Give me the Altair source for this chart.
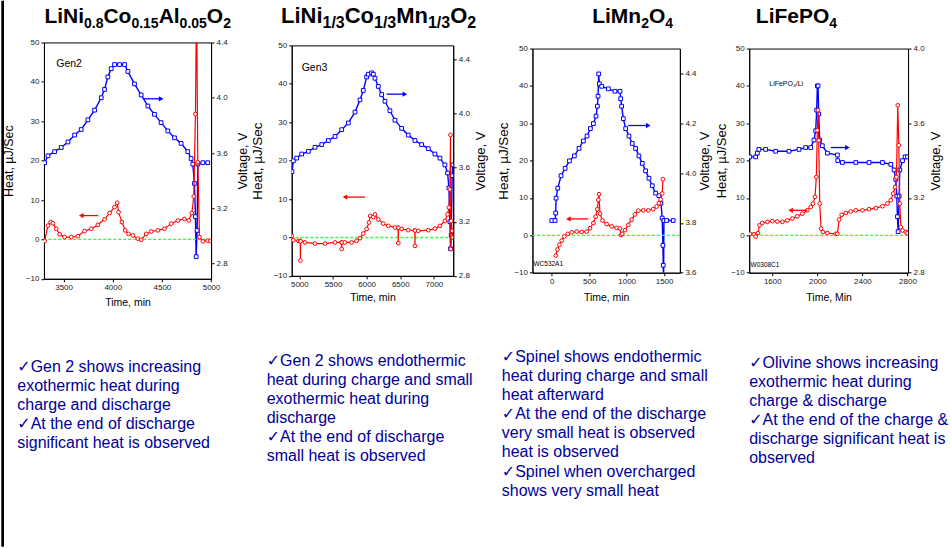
import altair as alt
import pandas as pd

FONT = "Liberation Sans, Arial, DejaVu Sans, sans-serif"
RED = "#ff0000"
BLUE = "#0000ff"
GREEN = "#33ff33"
NAVY = "#000099"

# ---------------- data ----------------
# Panel 1: LiNi0.8Co0.15Al0.05O2 (Gen2)
p1_volt_t = [3307, 3341, 3408, 3476, 3544, 3612, 3679, 3747, 3815, 3883, 3916, 3950, 3984, 4018, 4069, 4120,
             4154, 4221, 4289, 4357, 4424, 4492, 4560, 4628, 4695, 4763, 4797, 4814, 4831, 4841, 4848, 4858,
             4865, 4916, 4966]
p1_volt_v = [3.53, 3.58, 3.61, 3.64, 3.68, 3.73, 3.77, 3.84, 3.91, 4.00, 4.06, 4.15, 4.21, 4.24, 4.24, 4.24,
             4.19, 4.10, 4.02, 3.94, 3.88, 3.82, 3.76, 3.71, 3.67, 3.61, 3.56, 3.52, 3.38, 3.14, 2.85, 3.04,
             3.52, 3.53, 3.53]
p1_heat_t = [3307, 3341, 3368, 3391, 3425, 3459, 3510, 3578, 3645, 3713, 3781, 3849, 3916, 3967, 4018, 4045,
             4059, 4093, 4126, 4160, 4204, 4255, 4289, 4340, 4391, 4458, 4526, 4594, 4662, 4729, 4773, 4804,
             4824, 4841, 4852, 4865, 4882, 4916, 4966, 4994]
p1_heat_h = [-0.4, 3.5, 4.4, 4.1, 2.7, 1.3, 0.6, 0.6, 0.8, 2.1, 2.7, 3.7, 5.1, 6.7, 8.2, 9.3,
             6.9, 4.4, 2.3, 1.4, 1.0, 0.2, -0.1, 1.4, 2.0, 2.3, 2.7, 4.0, 4.8, 5.2, 4.8, 6.7,
             10.9, 31.8, 62.0, 19.6, 0.6, -0.5, -0.3, -0.4]

# Panel 2: LiNi1/3Co1/3Mn1/3O2 (Gen3)
p2_volt_t = [4890, 4911, 4960, 5035, 5134, 5233, 5332, 5431, 5530, 5629, 5728, 5827, 5901, 5950, 6000, 6025,
             6074, 6099, 6124, 6173, 6223, 6272, 6346, 6421, 6520, 6619, 6718, 6817, 6916, 7015, 7089, 7163,
             7203, 7223, 7237, 7247, 7257, 7272, 7282]
p2_volt_v = [3.57, 3.65, 3.67, 3.70, 3.72, 3.75, 3.77, 3.80, 3.83, 3.88, 3.93, 4.01, 4.10, 4.17, 4.27, 4.29,
             4.30, 4.29, 4.26, 4.20, 4.14, 4.09, 4.02, 3.95, 3.89, 3.84, 3.80, 3.77, 3.74, 3.70, 3.67, 3.62,
             3.56, 3.45, 3.20, 3.00, 3.10, 3.54, 3.62]
p2_heat_t = [4886, 4911, 4985, 5013, 5015, 5018, 5084, 5233, 5381, 5530, 5627, 5629, 5632, 5678, 5777, 5851,
             5901, 5950, 6000, 6035, 6054, 6099, 6124, 6173, 6247, 6322, 6421, 6468, 6470, 6473, 6520, 6619,
             6716, 6718, 6721, 6767, 6916, 7015, 7089, 7163, 7203, 7223, 7237, 7247, 7250, 7257, 7272, 7282]
p2_heat_h = [0.4, -0.7, -0.9, -0.9, -6.0, -1.0, -1.3, -1.6, -1.6, -1.3, -1.3, -3.0, -1.3, -1.3, -1.3, -0.9,
             -0.2, 1.0, 2.2, 3.9, 5.6, 5.3, 6.0, 4.7, 3.6, 3.0, 2.6, 2.5, -1.5, 2.5, 2.2, 1.9,
             1.8, -2.2, 1.8, 1.7, 1.9, 2.3, 3.0, 4.3, 6.0, 7.8, 12.5, 26.7, -3.0, 4.3, 1.7, 0.0]

# Panel 3: LiMn2O4
p3_volt_t = [0, 44, 53, 58, 80, 124, 178, 236, 302, 364, 422, 471, 516, 556, 591, 609, 618, 627, 636, 667,
             756, 844, 911, 920, 933, 956, 987, 1031, 1075, 1120, 1164, 1209, 1253, 1298, 1342, 1387, 1431,
             1458, 1475, 1484, 1489, 1493, 1498, 1533, 1622]
p3_volt_v = [3.81, 3.81, 3.84, 3.90, 3.94, 3.99, 4.02, 4.05, 4.07, 4.10, 4.13, 4.15, 4.18, 4.20, 4.23, 4.27,
             4.31, 4.40, 4.36, 4.35, 4.34, 4.33, 4.33, 4.30, 4.27, 4.22, 4.18, 4.15, 4.12, 4.10, 4.07, 4.04,
             4.01, 3.98, 3.95, 3.92, 3.91, 3.88, 3.82, 3.71, 3.63, 3.55, 3.81, 3.81, 3.81]
p3_heat_t = [53, 76, 102, 133, 169, 213, 267, 333, 400, 467, 511, 556, 587, 609, 622, 631, 644, 676, 733, 800,
             867, 911, 924, 942, 978, 1022, 1067, 1111, 1156, 1222, 1289, 1355, 1400, 1431, 1453, 1475, 1484]
p3_heat_h = [-5.4, -3.8, -2.5, -1.4, -0.3, 0.4, 0.8, 1.0, 0.9, 1.0, 1.9, 3.3, 5.0, 7.0, 9.5, 11.0, 5.8, 4.0,
             3.0, 2.4, 2.0, 1.8, 0.1, 0.4, 1.4, 2.8, 4.2, 5.6, 6.6, 6.7, 6.7, 7.0, 7.7, 8.6, 9.6, 11.2, 15.0]

# Panel 4: LiFePO4
p4_volt_t = [1400, 1452, 1467, 1481, 1541, 1630, 1748, 1837, 1896, 1941, 1970, 1985, 1994, 2000, 2006, 2012,
             2021, 2044, 2089, 2178, 2181, 2222, 2341, 2459, 2578, 2652, 2681, 2696, 2705, 2711, 2717, 2726,
             2732, 2756, 2779, 2800]
p4_volt_v = [3.42, 3.42, 3.44, 3.46, 3.46, 3.45, 3.45, 3.46, 3.47, 3.47, 3.51, 3.56, 3.67, 3.80, 3.80, 3.65,
             3.51, 3.48, 3.44, 3.43, 3.40, 3.39, 3.39, 3.39, 3.39, 3.38, 3.35, 3.30, 3.21, 3.10, 3.02, 3.21,
             3.35, 3.40, 3.42, 3.42]
p4_heat_t = [1400, 1437, 1452, 1473, 1487, 1511, 1556, 1600, 1644, 1689, 1733, 1778, 1822, 1867, 1911, 1941,
             1961, 1979, 1991, 2000, 2006, 2012, 2021, 2033, 2050, 2089, 2163, 2178, 2193, 2216, 2252, 2296,
             2341, 2400, 2459, 2519, 2578, 2622, 2652, 2673, 2690, 2702, 2714, 2723, 2732, 2741, 2756, 2785, 2800]
p4_heat_h = [0.4, 0.3, -0.3, 0.6, 2.7, 3.3, 3.6, 3.8, 3.7, 3.6, 4.0, 4.5, 5.1, 5.8, 6.7, 7.6,
             8.5, 10.3, 15.6, 28.1, 33.5, 25.4, 8.5, 1.8, 0.9, 0.6, 0.4, 0.4, 4.2, 5.5, 6.0, 6.4,
             6.7, 6.7, 7.0, 7.3, 7.8, 8.5, 9.4, 11.2, 12.9, 15.6, 34.8, 24.1, 8.5, 2.2, 1.3, 0.9, 0.6]

# arrows: start time, end time, heat level, colour, head side
p1_arrows = [(4319, 4492, 35.7, BLUE, "right"), (3679, 3852, 6.05, RED, "left")]
p2_arrows = [(6297, 6569, 37.3, BLUE, "right"), (5678, 5975, 10.5, RED, "left")]
p3_arrows = [(1022, 1289, 29.4, BLUE, "right"), (222, 489, 4.4, RED, "left")]
p4_arrows = [(2119, 2267, 23.5, BLUE, "right"), (1763, 1911, 6.7, RED, "left")]

# in-plot labels: time, heat, text, font size
p1_labels = [(3425, 44.6, "Gen2", 10.5)]
p2_labels = [(5035, 44.0, "Gen3", 10.5)]
p3_labels = [(-244, -7.7, "WC532A1", 6.5)]
p4_labels = [(1573, 40.6, "LiFePO\u2084/Li", 7), (1407, -8.0, "W0308C1", 6.5)]

# titles (pieces: text, is_subscript)
t1 = [("LiNi", 0), ("0.8", 1), ("Co", 0), ("0.15", 1), ("Al", 0), ("0.05", 1), ("O", 0), ("2", 1)]
t2 = [("LiNi", 0), ("1/3", 1), ("Co", 0), ("1/3", 1), ("Mn", 0), ("1/3", 1), ("O", 0), ("2", 1)]
t3 = [("LiMn", 0), ("2", 1), ("O", 0), ("4", 1)]
t4 = [("LiFePO", 0), ("4", 1)]

b1 = ["\u2713Gen 2 shows increasing", "exothermic heat during", "charge and discharge",
      "\u2713At the end of discharge", "significant heat is observed"]
b2 = ["\u2713Gen 2 shows endothermic", "heat during charge and small", "exothermic heat during",
      "discharge", "\u2713At the end of discharge", "small heat is observed"]
b3 = ["\u2713Spinel shows endothermic", "heat during charge and small", "heat afterward",
      "\u2713At the end of the discharge", "very small heat is observed", "heat is observed",
      "\u2713Spinel when overcharged", "shows very small heat"]
b4 = ["\u2713Olivine shows increasing", "exothermic heat during", "charge & discharge",
      "\u2713At the end of the charge &", "discharge  significant heat is", "observed"]

# ---------------- helpers ----------------
AB = {'L': 611, 'i': 278, 'N': 722, 'C': 722, 'o': 611, 'A': 722, 'l': 278, 'O': 778, 'M': 833,
      'n': 611, 'F': 611, 'e': 556, 'P': 667, '.': 278, '/': 278}
ONE = pd.DataFrame({"a": [0]})


def tw(s, size):
    return sum(AB.get(c, 556) for c in s) * size / 1000.0


def title_layers(pieces, cx, left, top, main, sub):
    total = sum(tw(s, sub if sb else main) for s, sb in pieces)
    x = cx - total / 2.0
    out = []
    for s, sb in pieces:
        sz = sub if sb else main
        y = 27.0 if sb else 22.5
        out.append(alt.Chart(ONE).mark_text(align="left", baseline="alphabetic", fontSize=sz,
                                            fontWeight="bold", font=FONT, color="black")
                   .encode(x=alt.value(x - left), y=alt.value(y - top), text=alt.value(s)))
        x += tw(s, sz)
    return out


def panel(P):
    xsc = alt.Scale(domain=P["tdom"], nice=False, zero=False)
    xax = alt.Axis(values=P["tvals"], format="d", title=P["xtitle"], labelFlush=False, labelOverlap=False,
                   minExtent=14, maxExtent=14, titlePadding=P["xpad"], titleFontSize=10.5,
                   labelFontSize=8, tickSize=3, grid=False)
    hsc = alt.Scale(domain=[-10, 50], nice=False, zero=False)
    hax = alt.Axis(values=[-10, 0, 10, 20, 30, 40, 50], format="d", title="Heat, \u00b5J/Sec", orient="left",
                   labelFlush=False, labelOverlap=False, minExtent=P["hE"], maxExtent=P["hE"],
                   titlePadding=P["hpad"], titleFontSize=P["hfs"], titleAngle=270,
                   titleBaseline="bottom", labelFontSize=8, tickSize=3, grid=False)
    vsc = alt.Scale(domain=P["vdom"], nice=False, zero=False)
    vax = alt.Axis(values=P["vvals"], format=".1f", title="Voltage, V", orient="right",
                   labelFlush=False, labelOverlap=False, minExtent=17, maxExtent=17,
                   titlePadding=P["vpad"], titleFontSize=P["vfs"], titleAngle=270,
                   titleBaseline="top", labelFontSize=8, tickSize=3, grid=False)

    def X(f):
        return alt.X(f, scale=xsc, axis=xax)

    def YH(f):
        return alt.Y(f, scale=hsc, axis=hax)

    heat_df = pd.DataFrame({"t": P["heat_t"], "h": P["heat_h"]})
    volt_df = pd.DataFrame({"t": P["volt_t"], "v": P["volt_v"]})

    heat_line = alt.Chart(heat_df).mark_line(
        color=RED, strokeWidth=1.2, clip=True,
        point=alt.OverlayMarkDef(shape="circle", size=14, fill="white", stroke=RED,
                                 strokeWidth=1, clip=True)
    ).encode(x=X("t:Q"), y=YH("h:Q"))

    zero = alt.Chart(pd.DataFrame({"h": [0]})).mark_rule(
        color=GREEN, strokeDash=[3, 2], strokeWidth=1.4).encode(y=YH("h:Q"))

    arr = pd.DataFrame({
        "t": [a[0] for a in P["arrows"]],
        "t_end": [a[1] for a in P["arrows"]],
        "h": [a[2] for a in P["arrows"]],
        "c": [a[3] for a in P["arrows"]],
        "head_t": [a[1] if a[4] == "right" else a[0] for a in P["arrows"]],
        "shape": ["triangle-right" if a[4] == "right" else "triangle-left" for a in P["arrows"]],
    })
    arr_rule = alt.Chart(arr).mark_rule(strokeWidth=1.3).encode(
        x=X("t:Q"), x2="t_end:Q", y=YH("h:Q"), color=alt.Color("c:N", scale=None))
    arr_head = alt.Chart(arr).mark_point(filled=True, size=28, opacity=1).encode(
        x=X("head_t:Q"), y=YH("h:Q"), color=alt.Color("c:N", scale=None),
        shape=alt.Shape("shape:N", scale=None))

    lab = pd.DataFrame({"t": [l[0] for l in P["labels"]], "h": [l[1] for l in P["labels"]],
                        "txt": [l[2] for l in P["labels"]], "fs": [l[3] for l in P["labels"]]})
    labels = alt.Chart(lab).mark_text(align="left", baseline="middle", font=FONT, color="black").encode(
        x=X("t:Q"), y=YH("h:Q"), text="txt:N", size=alt.Size("fs:Q", scale=None))

    extra = title_layers(P["title"], P["tcx"], P["left"], P["top"], P["tmain"], P["tsub"])
    bullets = alt.Chart(ONE).mark_text(
        align="left", baseline="top", lineBreak="\n", lineHeight=19.15, fontSize=16,
        font=FONT, color=NAVY
    ).encode(x=alt.value(P["bx"] - P["left"]), y=alt.value(P["by"] - P["top"]),
             text=alt.value("\n".join(P["bullets"])))
    extra.append(bullets)
    if P.get("border"):
        extra.append(alt.Chart(ONE).mark_rect(color="black").encode(
            x=alt.value(-P["left"]), x2=alt.value(-P["left"] + 2.7),
            y=alt.value(-P["top"]), y2=alt.value(546.5 - P["top"])))

    heat_layer = alt.layer(zero, heat_line, arr_rule, arr_head, labels, *extra)

    volt_line = alt.Chart(volt_df).mark_line(
        color=BLUE, strokeWidth=1.4, clip=True,
        point=alt.OverlayMarkDef(shape="square", size=14, fill="white", stroke=BLUE,
                                 strokeWidth=1, clip=True)
    ).encode(x=X("t:Q"), y=alt.Y("v:Q", scale=vsc, axis=vax))

    return alt.layer(volt_line, heat_layer).resolve_scale(y="independent").properties(
        width=P["w"], height=P["h"])


def spacer(w):
    return alt.Chart(ONE).mark_point(opacity=0).encode(
        x=alt.value(0), y=alt.value(0)).properties(width=w, height=10, view=alt.ViewBackground(stroke=None))


P1 = dict(w=167.3, h=236.6, left=42.7, top=41.7, tdom=[3300, 5000], tvals=[3500, 4000, 4500, 5000],
          vdom=[2.69, 4.4], vvals=[2.8, 3.2, 3.6, 4.0, 4.4], xtitle="Time, min", xpad=5,
          hE=20, hpad=8, hfs=12.5, vpad=8, vfs=12.5,
          heat_t=p1_heat_t, heat_h=p1_heat_h, volt_t=p1_volt_t, volt_v=p1_volt_v,
          arrows=p1_arrows, labels=p1_labels, title=t1, tcx=136.5, tmain=21, tsub=14,
          bullets=b1, bx=16, by=358.4, border=True)
P2 = dict(w=161.7, h=230.7, left=290.0, top=44.65, tdom=[4886, 7287],
          tvals=[5000, 5500, 6000, 6500, 7000], vdom=[2.8, 4.503], vvals=[2.8, 3.2, 3.6, 4.0, 4.4],
          xtitle="Time, min", xpad=3, hE=20, hpad=7, hfs=13.5, vpad=4, vfs=13,
          heat_t=p2_heat_t, heat_h=p2_heat_h, volt_t=p2_volt_t, volt_v=p2_volt_v,
          arrows=p2_arrows, labels=p2_labels, title=t2, tcx=377, tmain=22, tsub=16,
          bullets=b2, bx=265, by=352.4)
P3 = dict(w=147.6, h=224.4, left=530.7, top=47.8, tdom=[-258, 1711], tvals=[0, 500, 1000, 1500],
          vdom=[3.6, 4.502], vvals=[3.6, 3.8, 4.0, 4.2, 4.4], xtitle="Time, min", xpad=6,
          hE=17, hpad=5, hfs=13.5, vpad=2, vfs=13,
          heat_t=p3_heat_t, heat_h=p3_heat_h, volt_t=p3_volt_t, volt_v=p3_volt_v,
          arrows=p3_arrows, labels=p3_labels, title=t3, tcx=631, tmain=21, tsub=14,
          bullets=b3, bx=500, by=348.4)
P4 = dict(w=159.0, h=224.4, left=746.7, top=47.8, tdom=[1395, 2805], tvals=[1600, 2000, 2400, 2800],
          vdom=[2.8, 4.0], vvals=[2.8, 3.2, 3.6, 4.0], xtitle="Time, Min", xpad=6,
          hE=17, hpad=4, hfs=13, vpad=4, vfs=13,
          heat_t=p4_heat_t, heat_h=p4_heat_h, volt_t=p4_volt_t, volt_v=p4_volt_v,
          arrows=p4_arrows, labels=p4_labels, title=t4, tcx=794, tmain=21, tsub=14,
          bullets=b4, bx=746.7, by=354.4)

chart = alt.hconcat(
    panel(P1), spacer(80), panel(P2), spacer(79), panel(P3), spacer(68.4), panel(P4),
    spacing=0, bounds="flush", center=True
).configure_view(stroke="black", strokeWidth=1).configure_axis(
    grid=False, domainColor="black", tickColor="black", labelColor="#222222", titleColor="black",
    labelFont=FONT, titleFont=FONT, titleFontWeight="normal", domainWidth=1, tickWidth=1
).properties(padding=0, background="white")

chart.save("out.html", embed_options={"renderer": "svg", "actions": False})
